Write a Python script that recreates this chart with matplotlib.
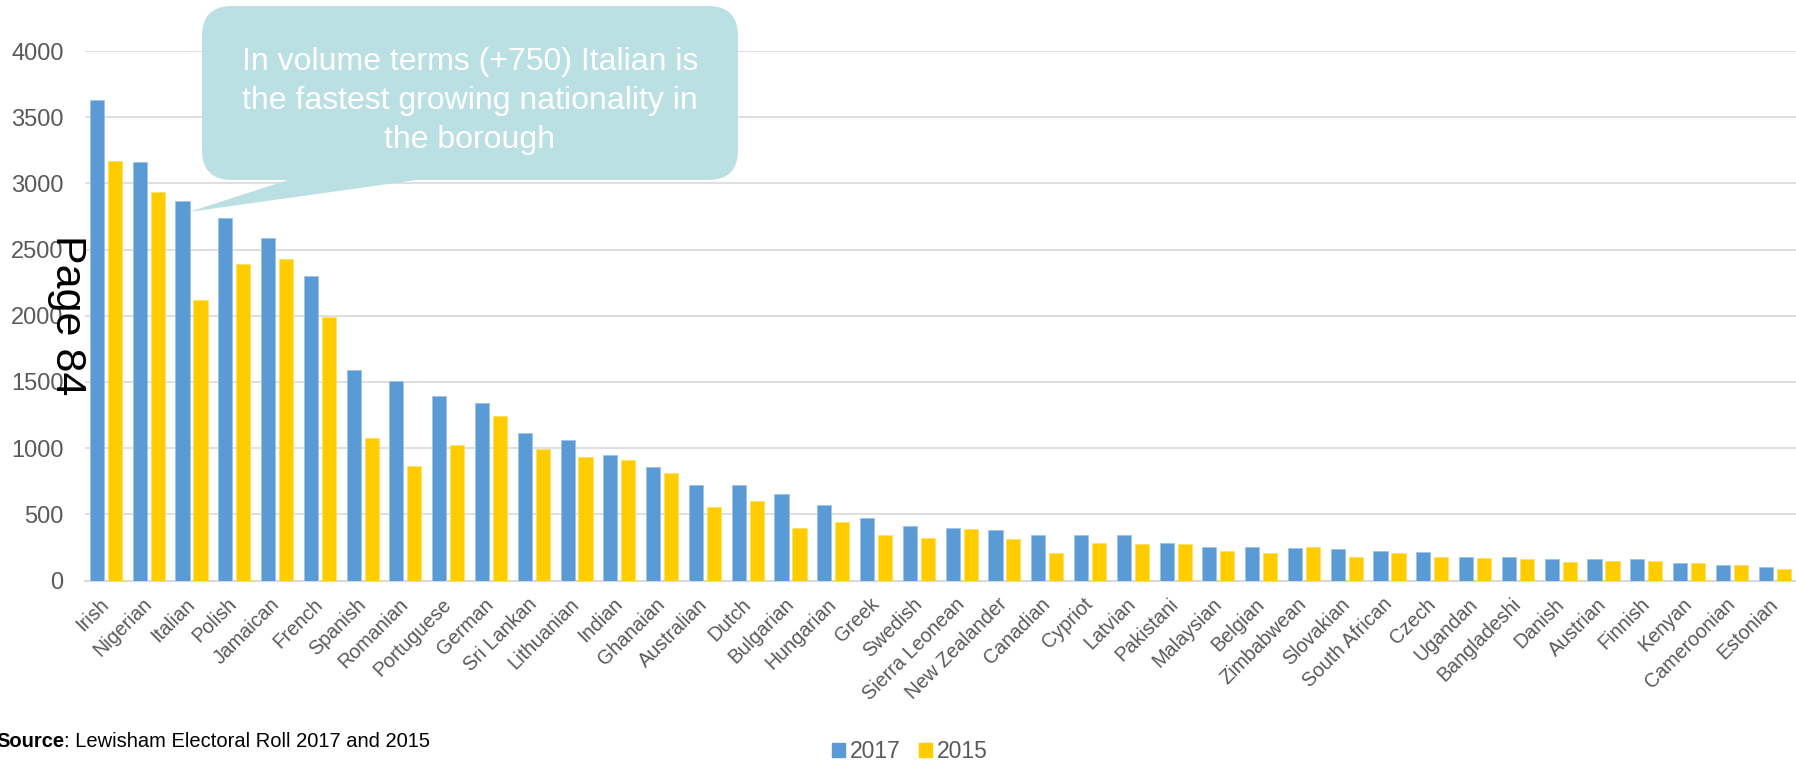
import matplotlib.pyplot as plt
import numpy as np
from matplotlib.patches import FancyBboxPatch, Polygon, Patch

plt.rcParams['font.family'] = ['Liberation Sans', 'DejaVu Sans']

# Nationalities on the Lewisham electoral roll
nationalities = ['Irish', 'Nigerian', 'Italian', 'Polish', 'Jamaican', 'French', 'Spanish',
                 'Romanian', 'Portuguese', 'German', 'Sri Lankan', 'Lithuanian', 'Indian',
                 'Ghanaian', 'Australian', 'Dutch', 'Bulgarian', 'Hungarian', 'Greek', 'Swedish',
                 'Sierra Leonean', 'New Zealander', 'Canadian', 'Cypriot', 'Latvian', 'Pakistani',
                 'Malaysian', 'Belgian', 'Zimbabwean', 'Slovakian', 'South African', 'Czech',
                 'Ugandan', 'Bangladeshi', 'Danish', 'Austrian', 'Finnish', 'Kenyan',
                 'Cameroonian', 'Estonian']
count_2017 = [3630, 3160, 2870, 2740, 2585, 2300, 1590, 1510, 1395, 1340, 1115, 1065, 945,
              860, 725, 725, 655, 570, 470, 415, 400, 380, 340, 340, 340, 280, 255, 255,
              245, 240, 225, 215, 180, 175, 165, 165, 160, 130, 120, 100]
count_2015 = [3170, 2935, 2120, 2390, 2430, 1990, 1080, 865, 1020, 1240, 990, 930, 910,
              815, 555, 600, 400, 445, 340, 320, 390, 310, 205, 285, 275, 275, 225, 210,
              250, 180, 210, 180, 170, 165, 140, 145, 145, 130, 120, 85]
y_ticks = [0, 500, 1000, 1500, 2000, 2500, 3000, 3500, 4000]

callout_text = 'In volume terms (+750) Italian is\nthe fastest growing nationality in\nthe borough'
source_text = ': Lewisham Electoral Roll 2017 and 2015'

blue = '#5B9BD5'
yellow = '#FFCC00'
grey = '#595959'

W, H = 1796, 764
fig = plt.figure(figsize=(W / 100, H / 100), dpi=100)
ax = fig.add_axes([84.5 / W, 1 - 580.5 / H, 1 - 84.5 / W, (580.5 - 51) / H])

x = np.arange(len(nationalities))
bw = 0.33
off = 0.21
ax.bar(x - off, count_2017, bw, color=blue, edgecolor='#9DC3E6', linewidth=0.6,
       label='2017', zorder=3)
ax.bar(x + off, count_2015, bw, color=yellow, edgecolor='#FFE066', linewidth=0.6,
       label='2015', zorder=3)

ax.set_xlim(-0.5, len(nationalities) - 0.5)
ax.set_ylim(0, 4000)
ax.set_yticks(y_ticks)
ax.yaxis.grid(True, color='#D9D9D9', linewidth=1.2, zorder=0)
ax.tick_params(axis='y', length=0, labelsize=17, labelcolor=grey, pad=15)
ax.set_xticks(x)
ax.set_xticklabels(nationalities, rotation=45, ha='right', va='center',
                   rotation_mode='anchor', fontsize=14.2, color=grey)
ax.tick_params(axis='x', length=0, pad=15)
for s in ['top', 'right', 'left']:
    ax.spines[s].set_visible(False)
ax.spines['bottom'].set_color('#D9D9D9')
ax.spines['bottom'].set_linewidth(1.5)
ax.set_facecolor('none')

# overlay in pixel units for the callout and the page stamp
ov = fig.add_axes([0, 0, 1, 1])
ov.set_xlim(0, W)
ov.set_ylim(H, 0)
ov.axis('off')
ov.set_zorder(5)

box_col = '#BAE0E3'
ov.add_patch(FancyBboxPatch((202, 6), 536, 174, boxstyle='round,pad=0,rounding_size=30',
                            facecolor=box_col, edgecolor='none'))
tip = ov.transData.inverted().transform(
    ax.transData.transform((2 - off + bw / 2, count_2017[2] - 85)))
ov.add_patch(Polygon([(291, 179), (424, 179), tuple(tip)], closed=True,
                     facecolor=box_col, edgecolor='none'))
ov.text(470, 101, callout_text, color='white', fontsize=23, ha='center', va='center',
        linespacing=1.37)

ov.text(67, 315, 'Page 84', rotation=-90, fontsize=31, color='black',
        ha='center', va='center')

# source note
t1 = fig.text(-4 / W, 17 / H, 'Source', fontsize=14.5, fontweight='bold', va='baseline')
plt.annotate(source_text, xy=(1, 0), xycoords=t1, fontsize=14.5, va='bottom', ha='left')

handles = [Patch(color=blue, label='2017'), Patch(color=yellow, label='2015')]
fig.legend(handles=handles, loc='center', bbox_to_anchor=(910 / W, 1 - 752 / H), ncol=2,
           frameon=False, fontsize=16.5, labelcolor=grey, handlelength=0.57,
           handleheight=0.57, handletextpad=0.2, columnspacing=0.8)

fig.savefig('out.png', dpi=100)
